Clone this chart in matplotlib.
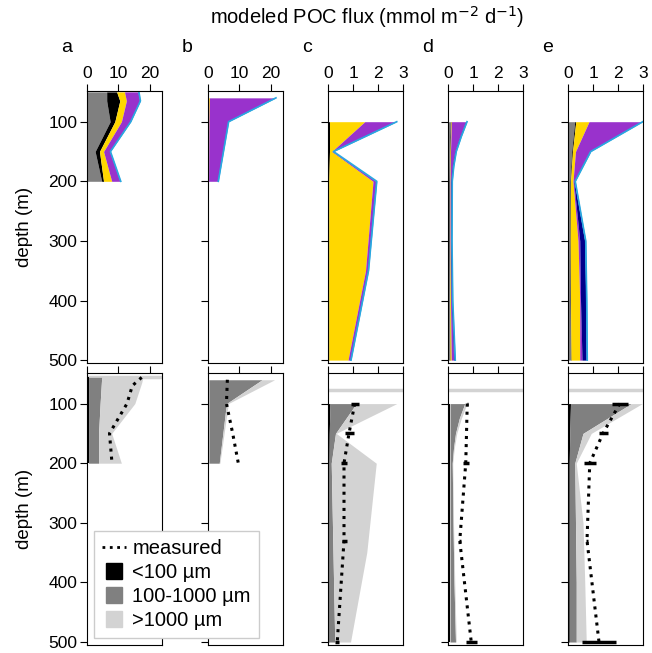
import numpy as np
import matplotlib
matplotlib.use('Agg')
import matplotlib.pyplot as plt
from matplotlib.lines import Line2D

plt.rcParams['font.family'] = ['Liberation Sans', 'DejaVu Sans']

# panel letters, x range and ticks
panel_names = ['a', 'b', 'c', 'd', 'e']
x_max = [24, 24, 3, 3, 3]
x_ticks = [[0, 10, 20], [0, 10, 20], [0, 1, 2, 3], [0, 1, 2, 3], [0, 1, 2, 3]]
depth_ticks = [100, 200, 300, 400, 500]

# --- top row: modeled flux by component (layer widths, stacked left to right) ---
a_depth = [50, 65, 100, 150, 200]
a_gray = [6.3, 6.3, 7.4, 2.6, 4.7]
a_black = [3.2, 4.2, 1.5, 1.4, 0.6]
a_gold = [2.5, 2.1, 2.1, 1.3, 2.6]
a_purple = [4.3, 4.2, 2.7, 1.9, 2.6]
a_navy = [0.1, 0.1, 0.1, 0.1, 0.1]
a_cyan = [0.2, 0.2, 0.2, 0.2, 0.2]

b_depth = [60, 100, 200]
b_gray = [0.1, 0.05, 0.05]
b_black = [0.05, 0.05, 0.05]
b_gold = [0.3, 0.2, 0.1]
b_purple = [21.0, 6.0, 2.8]
b_navy = [0.1, 0.1, 0.1]
b_cyan = [0.2, 0.2, 0.2]

c_depth = [100, 150, 200, 350, 500]
c_gray = [0.02, 0.02, 0.02, 0.02, 0.02]
c_black = [0.04, 0.04, 0.01, 0.01, 0.01]
c_gold = [1.41, 0.09, 1.77, 1.47, 0.77]
c_purple = [1.23, 0.02, 0.1, 0.07, 0.07]
c_navy = [0.02, 0.02, 0.02, 0.02, 0.02]
c_cyan = [0.03, 0.03, 0.03, 0.03, 0.03]

d_depth = [100, 125, 150, 175, 200, 300, 400, 500]
d_gray = [0.1, 0.08, 0.06, 0.05, 0.04, 0.04, 0.05, 0.06]
d_black = [0.02, 0.02, 0.02, 0.02, 0.02, 0.02, 0.02, 0.02]
d_gold = [0.02, 0.02, 0.02, 0.02, 0.02, 0.02, 0.03, 0.05]
d_purple = [0.56, 0.35, 0.17, 0.08, 0.03, 0.02, 0.03, 0.1]
d_navy = [0.03, 0.03, 0.03, 0.03, 0.03, 0.03, 0.03, 0.03]
d_cyan = [0.03, 0.03, 0.03, 0.03, 0.03, 0.03, 0.03, 0.03]

e_depth = [100, 150, 200, 300, 400, 500]
e_gray = [0.27, 0.15, 0.08, 0.07, 0.08, 0.1]
e_black = [0.04, 0.03, 0.02, 0.02, 0.02, 0.02]
e_gold = [0.53, 0.12, 0.1, 0.31, 0.37, 0.35]
e_purple = [2.09, 0.55, 0.03, 0.07, 0.03, 0.09]
e_navy = [0.02, 0.02, 0.02, 0.2, 0.21, 0.17]
e_cyan = [0.04, 0.04, 0.04, 0.04, 0.04, 0.04]

# --- bottom row: modeled flux by size class (layer widths) ---
a_size_depth = [56, 65, 100, 150, 200]
a_small = [0.5, 0.5, 0.5, 0.5, 0.5]
a_mid = [4.2, 4.1, 3.7, 3.2, 3.2]
a_large = [13.2, 12.9, 11.1, 4.2, 7.3]

b_size_depth = [60, 100, 200]
b_small = [0.3, 0.3, 0.3]
b_mid = [17.0, 5.6, 3.3]
b_large = [4.0, 0.6, 0.2]

c_size_depth = [100, 150, 200, 350, 500]
c_small = [0.08, 0.05, 0.04, 0.04, 0.04]
c_mid = [1.05, 0.25, 0.09, 0.16, 0.23]
c_large = [1.62, 0.03, 1.8, 1.35, 0.63]

d_size_depth = [100, 125, 150, 175, 200, 300, 400, 500]
d_small = [0.08, 0.08, 0.08, 0.08, 0.08, 0.08, 0.08, 0.08]
d_mid = [0.59, 0.37, 0.22, 0.14, 0.09, 0.12, 0.16, 0.22]
d_large = [0.09, 0.08, 0.05, 0.03, 0.02, 0.02, 0.03, 0.03]

e_size_depth = [100, 150, 200, 300, 400, 500]
e_small = [0.1, 0.07, 0.05, 0.05, 0.05, 0.05]
e_mid = [2.43, 0.53, 0.22, 0.25, 0.28, 0.28]
e_large = [0.44, 0.33, 0.06, 0.3, 0.34, 0.4]

# --- measured flux (dotted) with horizontal error bars ---
a_meas_depth = [56, 70, 100, 150, 200]
a_meas = [17.5, 14.5, 12.8, 7.2, 8.0]
a_meas_err = [0, 0, 0, 0, 0]

b_meas_depth = [60, 100, 150, 200]
b_meas = [6.2, 5.9, 7.9, 9.7]
b_meas_err = [0, 0, 0, 0]

c_meas_depth = [100, 150, 200, 330, 500]
c_meas = [1.07, 0.84, 0.64, 0.64, 0.37]
c_meas_err = [0.17, 0.18, 0.11, 0.1, 0.08]

d_meas_depth = [100, 200, 330, 500]
d_meas = [0.77, 0.71, 0.47, 0.93]
d_meas_err = [0.03, 0.13, 0.05, 0.23]

e_meas_depth = [100, 150, 200, 330, 500]
e_meas = [2.07, 1.4, 0.87, 0.76, 1.24]
e_meas_err = [0.33, 0.18, 0.23, 0.05, 0.67]

# light gray reference line in bottom panels
ref_line_depth = [56, None, 77.5, 77.5, 77.5]

top_colors = ['#808080', 'black', '#FFD700', '#9932CC', '#00008B', '#2AA7E0']
size_colors = ['black', '#808080', '#D3D3D3']

top_data = [
    (a_depth, [a_gray, a_black, a_gold, a_purple, a_navy, a_cyan]),
    (b_depth, [b_gray, b_black, b_gold, b_purple, b_navy, b_cyan]),
    (c_depth, [c_gray, c_black, c_gold, c_purple, c_navy, c_cyan]),
    (d_depth, [d_gray, d_black, d_gold, d_purple, d_navy, d_cyan]),
    (e_depth, [e_gray, e_black, e_gold, e_purple, e_navy, e_cyan]),
]
size_data = [
    (a_size_depth, [a_small, a_mid, a_large]),
    (b_size_depth, [b_small, b_mid, b_large]),
    (c_size_depth, [c_small, c_mid, c_large]),
    (d_size_depth, [d_small, d_mid, d_large]),
    (e_size_depth, [e_small, e_mid, e_large]),
]
meas_data = [
    (a_meas_depth, a_meas, a_meas_err),
    (b_meas_depth, b_meas, b_meas_err),
    (c_meas_depth, c_meas, c_meas_err),
    (d_meas_depth, d_meas, d_meas_err),
    (e_meas_depth, e_meas, e_meas_err),
]


def stack_layers(ax, depth, layers, colors):
    left = np.zeros(len(depth))
    for vals, col in zip(layers, colors):
        right = left + np.array(vals)
        ax.fill_betweenx(depth, left, right, color=col, lw=0)
        left = right
    return left


def style_axis(ax, i, show_labels):
    ax.set_ylim(505, 48)
    ax.set_xlim(0, x_max[i])
    ax.set_xticks(x_ticks[i])
    ax.set_yticks(depth_ticks)
    ax.xaxis.tick_top()
    ax.tick_params(direction='out', length=5, width=0.8, labelsize=12.5, pad=2)
    if not show_labels:
        ax.set_xticklabels([])
    if i > 0:
        ax.set_yticklabels([])


fig = plt.figure(figsize=(6.52, 6.53), dpi=100)
W, H = 652.0, 653.0
lefts = [87, 208, 328, 448, 568]
ax_w = 75
ax_h = 272.4

for i in range(5):
    # top row
    ax = fig.add_axes([lefts[i] / W, 1 - 363.1 / H, ax_w / W, ax_h / H])
    depth, layers = top_data[i]
    total = stack_layers(ax, depth, layers, top_colors)
    ax.plot(total, depth, color=top_colors[-1], lw=1.2)
    style_axis(ax, i, True)
    if i == 0:
        ax.set_ylabel('depth (m)', fontsize=13.5, labelpad=11)
    fig.text((lefts[i] - 26) / W, 1 - 48 / H, panel_names[i], fontsize=14,
             ha='left', va='center')

    # bottom row
    ax2 = fig.add_axes([lefts[i] / W, 1 - 645 / H, ax_w / W, ax_h / H])
    if ref_line_depth[i] is not None:
        ax2.axhline(ref_line_depth[i], color='#D3D3D3', lw=2.5, zorder=1)
    depth, layers = size_data[i]
    stack_layers(ax2, depth, layers, size_colors)
    md, mv, me = meas_data[i]
    ax2.plot(mv, md, color='black', ls=':', lw=2.2, zorder=4)
    if any(e > 0 for e in me):
        ax2.errorbar(mv, md, xerr=me, fmt='none', ecolor='black', elinewidth=2.5,
                     capsize=0, zorder=5)
    style_axis(ax2, i, False)
    if i == 0:
        ax2.set_ylabel('depth (m)', fontsize=13.5, labelpad=11)

fig.text(367 / W, 1 - 17 / H, 'modeled POC flux (mmol m$^{-2}$ d$^{-1}$)',
         fontsize=14.5, ha='center', va='center')

handles = [
    Line2D([], [], color='black', ls=':', lw=2),
    Line2D([], [], color='black', marker='s', ls='none', markersize=12),
    Line2D([], [], color='#808080', marker='s', ls='none', markersize=12),
    Line2D([], [], color='#D3D3D3', marker='s', ls='none', markersize=12),
]
labels = ['measured', '<100 µm', '100-1000 µm', '>1000 µm']
leg = fig.legend(handles, labels, loc='lower left',
                 bbox_to_anchor=(94 / W, 1 - 638 / H), fontsize=14.5,
                 handlelength=1.2, handletextpad=0.3, labelspacing=0.25,
                 borderpad=0.4, borderaxespad=0, fancybox=False, framealpha=1,
                 edgecolor='#CCCCCC')
leg.get_frame().set_linewidth(1.0)

fig.savefig('out.png', dpi=100)
